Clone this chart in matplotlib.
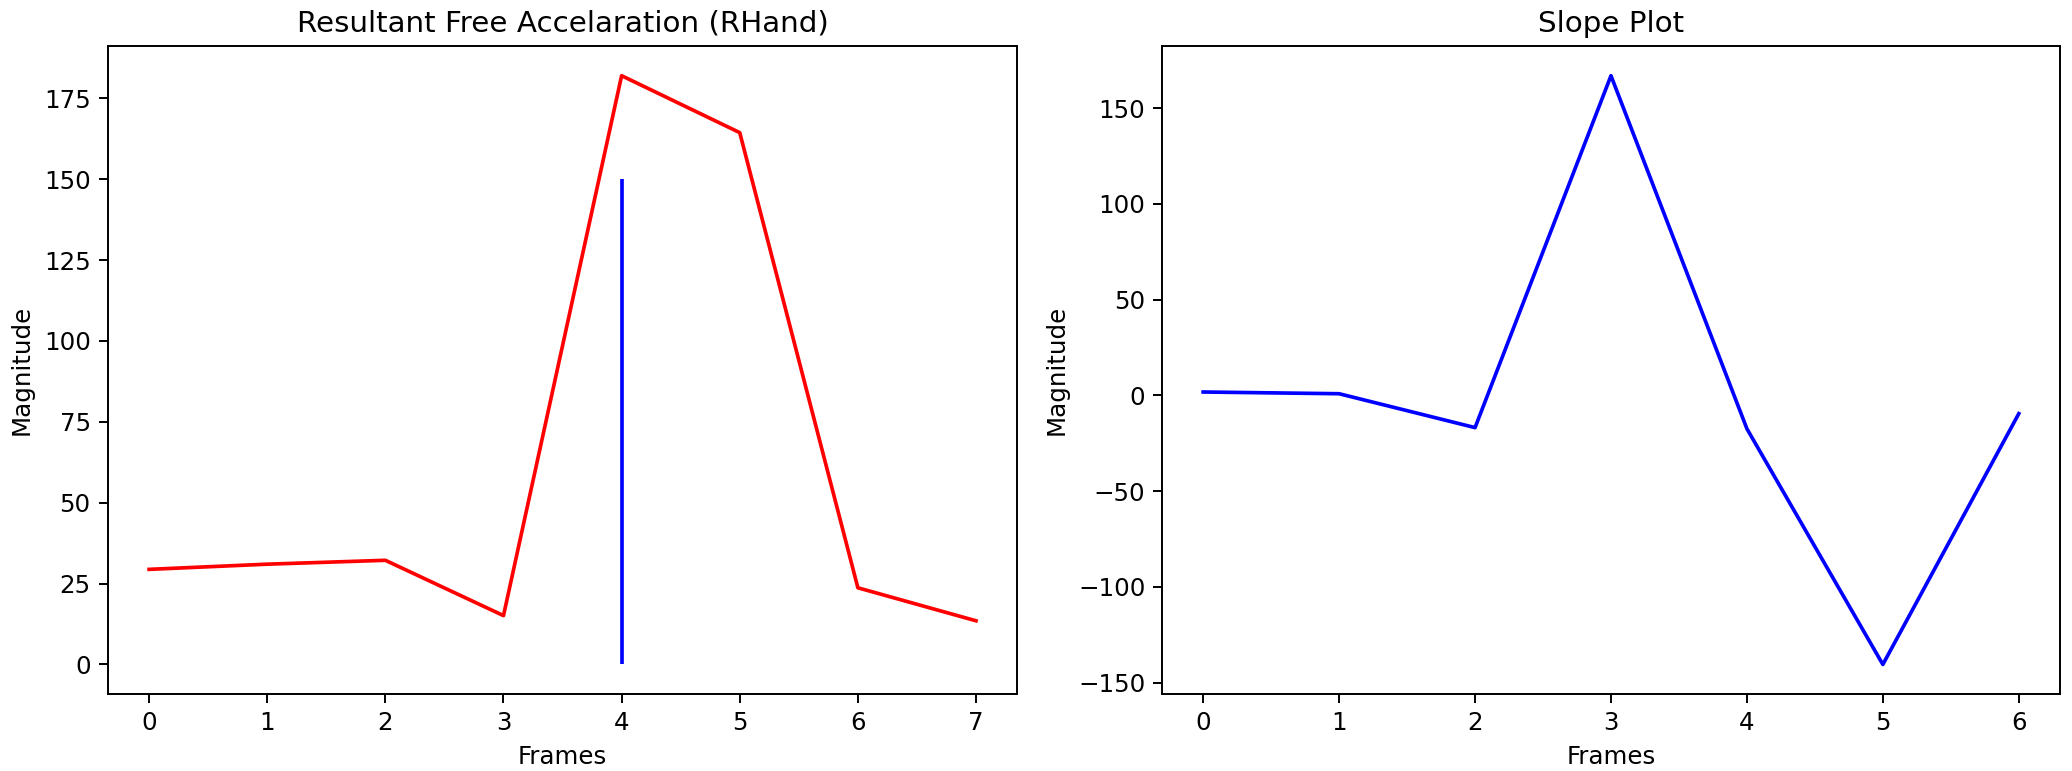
import matplotlib
matplotlib.use("Agg")
from matplotlib import pyplot as plt

# resultant free acceleration per frame
frames = [0, 1, 2, 3, 4, 5, 6, 7]
magnitude = [29.4, 31.0, 32.2, 15.1, 182.0, 164.4, 23.7, 13.5]

# slope between consecutive frames
slope_frames = [0, 1, 2, 3, 4, 5, 6]
slope = [1.8, 0.9, -16.8, 167.0, -17.4, -140.5, -9.5]

# vertical marker
peak_frame = 4
peak_low = 0
peak_high = 150

fig = plt.figure(figsize=(2072/176, 771/176), dpi=176)
ax1 = fig.add_axes([0.052, 0.100, 0.439, 0.840])
ax2 = fig.add_axes([0.561, 0.100, 0.433, 0.840])

ax1.plot(frames, magnitude, color='red')
ax1.vlines(peak_frame, peak_low, peak_high, color='blue')
ax1.set_title('Resultant Free Accelaration (RHand)')
ax1.set_xlabel('Frames')
ax1.set_ylabel('Magnitude')

ax2.plot(slope_frames, slope, color='blue')
ax2.set_title('Slope Plot')
ax2.set_xlabel('Frames')
ax2.set_ylabel('Magnitude')

fig.savefig('out.png', dpi=176)
